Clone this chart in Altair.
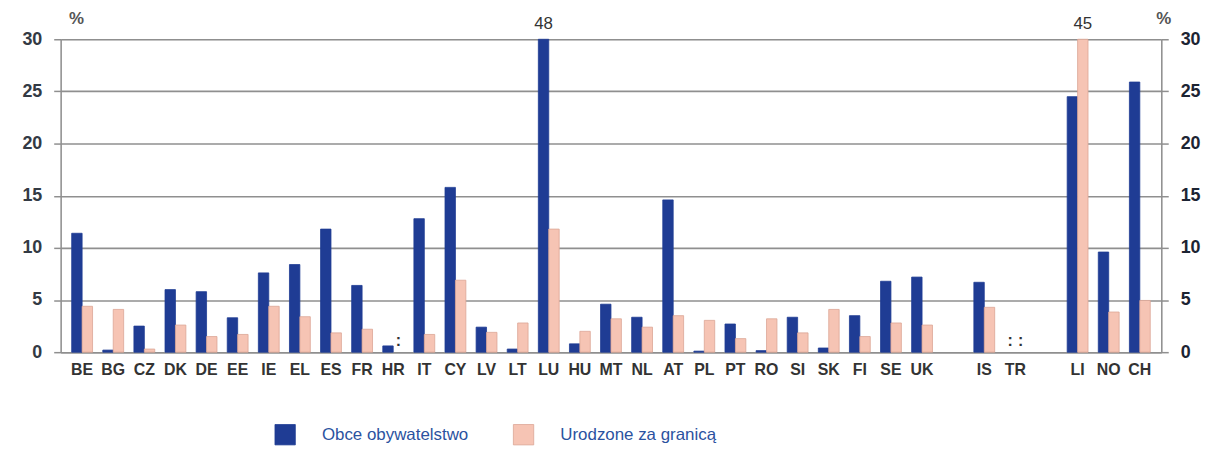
import altair as alt
import pandas as pd

# Country slots (blank strings are empty gap slots)
countries = ["BE", "BG", "CZ", "DK", "DE", "EE", "IE", "EL", "ES", "FR", "HR",
             "IT", "CY", "LV", "LT", "LU", "HU", "MT", "NL", "AT", "PL", "PT",
             "RO", "SI", "SK", "FI", "SE", "UK", " ", "IS", "TR", "  ",
             "LI", "NO", "CH"]

series_names = ["Obce obywatelstwo", "Urodzone za granicą"]

foreign_citizens = [11.4, 0.2, 2.5, 6.0, 5.8, 3.3, 7.6, 8.4, 11.8, 6.4, 0.6,
                    12.8, 15.8, 2.4, 0.3, 48, 0.8, 4.6, 3.35, 14.6, 0.1, 2.7,
                    0.15, 3.35, 0.4, 3.5, 6.8, 7.2, None, 6.7, None, None,
                    24.5, 9.6, 25.9]

foreign_born = [4.4, 4.1, 0.3, 2.6, 1.5, 1.7, 4.4, 3.4, 1.85, 2.2, None,
                1.7, 6.9, 1.9, 2.8, 11.8, 2.0, 3.2, 2.4, 3.5, 3.05, 1.3,
                3.2, 1.85, 4.1, 1.5, 2.8, 2.6, None, 4.3, None, None,
                45, 3.85, 4.96]

y_ticks = [0, 5, 10, 15, 20, 25, 30]

rows = []
for i, c in enumerate(countries):
    rows.append({"country": c, "series": series_names[0], "value": foreign_citizens[i]})
    rows.append({"country": c, "series": series_names[1], "value": foreign_born[i]})
df = pd.DataFrame(rows)

BLUE = "#1f3c94"
PINK = "#f6c4b4"
FONT = "Liberation Sans Narrow, Liberation Sans, Arial"

x_scale = alt.Scale(domain=countries, paddingInner=0.33, paddingOuter=0.355)
x_axis = alt.Axis(title=None, labelAngle=0, ticks=False, labelPadding=9,
                  labelFont=FONT, labelFontSize=16, labelFontWeight="bold",
                  labelColor="#333333", domainColor="#8f8f8f", domainWidth=1.5,
                  grid=False)
x_enc = alt.X("country:N", sort=countries, scale=x_scale, axis=x_axis)
xo_enc = alt.XOffset("series:N", sort=series_names,
                     scale=alt.Scale(domain=series_names, paddingInner=0, paddingOuter=0))
y_scale = alt.Scale(domain=[0, 30], clamp=True, nice=False)

bars = alt.Chart(df).mark_bar(strokeWidth=0.8).encode(
    x=x_enc,
    xOffset=xo_enc,
    y=alt.Y("value:Q", scale=y_scale,
            axis=alt.Axis(title="%", titleAngle=0, titleX=8, titleY=-12, titleAlign="left",
                          titleFont=FONT, titleFontSize=17, titleFontWeight="bold",
                          titleColor="#555555",
                          values=y_ticks, tickSize=7, tickColor="#8f8f8f", tickWidth=1.5,
                          labelPadding=12, labelFont=FONT, labelFontSize=18,
                          labelFontWeight="bold", labelColor="#333a44",
                          domainColor="#8f8f8f", domainWidth=1.5,
                          grid=True, gridColor="#8f8f8f", gridWidth=1.6)),
    color=alt.Color("series:N", sort=series_names,
                    scale=alt.Scale(domain=series_names, range=[BLUE, PINK]),
                    legend=alt.Legend(title=None, orient="none", direction="horizontal",
                                      legendX=215, legendY=387,
                                      symbolType="square", symbolSize=420,
                                      symbolStrokeWidth=0.8, symbolStrokeColor="#d9a090",
                                      labelFont="Liberation Sans", labelFontSize=17,
                                      labelColor="#2b52a0", labelOffset=26,
                                      columnPadding=43)),
    stroke=alt.Stroke("series:N", sort=series_names,
                      scale=alt.Scale(domain=series_names, range=[BLUE, "#dca595"]),
                      legend=None),
)

right_axis = alt.Chart(df).mark_bar(opacity=0).encode(
    x=alt.X("country:N", sort=countries, scale=x_scale, axis=x_axis),
    xOffset=xo_enc,
    y=alt.Y("value:Q", scale=y_scale,
            axis=alt.Axis(orient="right", title="%", titleAngle=0, titleX=2, titleY=-12,
                          titleAlign="center", titleFont=FONT, titleFontSize=17,
                          titleFontWeight="bold", titleColor="#555555",
                          values=y_ticks, tickSize=7, tickColor="#8f8f8f", tickWidth=1.5,
                          labelPadding=12, labelFont=FONT, labelFontSize=18,
                          labelFontWeight="bold", labelColor="#1c2433",
                          domainColor="#8f8f8f", domainWidth=1.5, grid=False)),
)

over = alt.Chart(df).transform_filter("datum.value > 30").mark_text(
    baseline="bottom", dy=-6, font="Liberation Sans", fontSize=17, color="#333333"
).encode(
    x=alt.X("country:N", sort=countries, scale=x_scale, axis=x_axis),
    xOffset=xo_enc,
    y=alt.value(0),
    text=alt.Text("value:Q", format="d"),
)

missing = alt.Chart(df).transform_filter(
    "!isValid(datum.value) && length(trim(datum.country)) > 0"
).transform_calculate(mark='":"').mark_text(
    baseline="bottom", dy=-3, font="Liberation Sans", fontSize=16,
    fontWeight="bold", color="#333333"
).encode(
    x=alt.X("country:N", sort=countries, scale=x_scale, axis=x_axis),
    xOffset=xo_enc,
    y=alt.value(315),
    text="mark:N",
)

chart = alt.layer(bars, right_axis, over, missing).resolve_axis(
    y="independent"
).properties(
    width=1108, height=315,
    autosize=alt.AutoSizeParams(type="none"),
    padding={"left": 53, "top": 30, "right": 44, "bottom": 97},
).configure_view(stroke=None).configure(background="white")

chart.save("out.html", embed_options={"renderer": "svg", "actions": False})
